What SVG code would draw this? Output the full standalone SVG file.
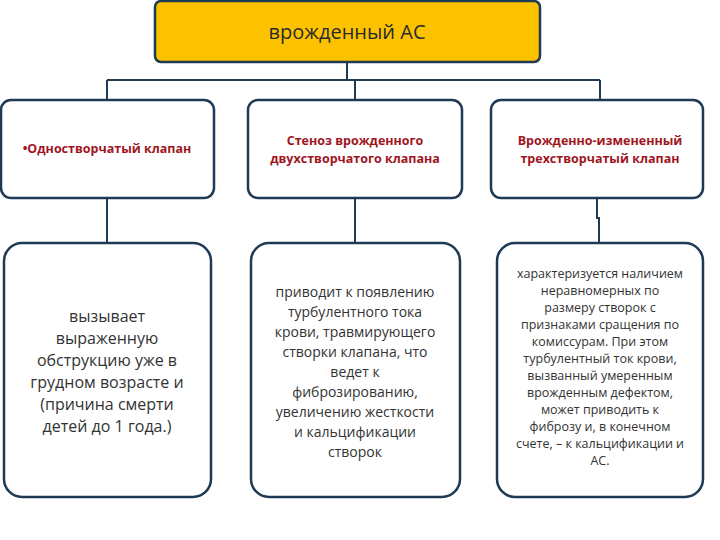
<svg xmlns="http://www.w3.org/2000/svg" width="720" height="540" viewBox="0 0 720 540">
<style>
.b{fill:#fff;stroke:#1f3a55;stroke-width:2.5}
.c{stroke:#1f3a55;stroke-width:2;fill:none}
.r{font-family:"Open Sans","Liberation Sans",sans-serif;font-size:12.5px;font-weight:bold;fill:#a0151d;text-anchor:middle}
.t{font-family:"Open Sans","Liberation Sans",sans-serif;fill:#333;text-anchor:middle}
</style>
<rect width="720" height="540" fill="#fff"/>
<g id="connectors">
<path class="c" d="M347 62V80M107 80H600M107 80V100M355 80V100M600 80V100M107 198V243M355 198V243M597 198V218H599V243"/>
</g>
<g id="root"><rect class="b" x="155" y="1" width="385" height="61" rx="6" fill="#fcc200" style="fill:#fcc200"/>
<text class="t" x="347" y="39" font-size="20" style="fill:#2b2b2b">врожденный АС</text></g>
<g id="n1"><rect class="b" x="1" y="100" width="213" height="98" rx="10"/>
<text class="r" x="107" y="153">•Одностворчатый клапан</text></g>
<g id="n2"><rect class="b" x="248" y="100" width="214" height="98" rx="10"/>
<text class="r" x="355" y="145">Стеноз врожденного</text><text class="r" x="355" y="163">двухстворчатого клапана</text></g>
<g id="n3"><rect class="b" x="491" y="100" width="212" height="98" rx="10"/>
<text class="r" x="600" y="145">Врожденно-измененный</text><text class="r" x="600" y="163">трехстворчатый клапан</text></g>
<g id="n4"><rect class="b" x="4" y="243" width="207" height="254" rx="18"/>
<text class="t" font-size="16"><tspan x="107" y="322">вызывает</tspan><tspan x="107" y="344">выраженную</tspan><tspan x="107" y="366">обструкцию уже в</tspan><tspan x="107" y="388">грудном возрасте и</tspan><tspan x="107" y="410">(причина смерти</tspan><tspan x="107" y="432">детей до 1 года.)</tspan></text></g>
<g id="n5"><rect class="b" x="251" y="243" width="209" height="254" rx="18"/>
<text class="t" font-size="14"><tspan x="355" y="297">приводит к появлению</tspan><tspan x="355" y="317">турбулентного тока</tspan><tspan x="355" y="337">крови, травмирующего</tspan><tspan x="355" y="357">створки клапана, что</tspan><tspan x="355" y="377">ведет к</tspan><tspan x="355" y="397">фиброзированию,</tspan><tspan x="355" y="417">увеличению жесткости</tspan><tspan x="355" y="437">и кальцификации</tspan><tspan x="355" y="457">створок</tspan></text></g>
<g id="n6"><rect class="b" x="497" y="243" width="206" height="254" rx="18"/>
<text class="t" font-size="12.5"><tspan x="600" y="278">характеризуется наличием</tspan><tspan x="600" y="295">неравномерных по</tspan><tspan x="600" y="312">размеру створок с</tspan><tspan x="600" y="329">признаками сращения по</tspan><tspan x="600" y="346">комиссурам. При этом</tspan><tspan x="600" y="363">турбулентный ток крови,</tspan><tspan x="600" y="380">вызванный умеренным</tspan><tspan x="600" y="397">врожденным дефектом,</tspan><tspan x="600" y="414">может приводить к</tspan><tspan x="600" y="431">фиброзу и, в конечном</tspan><tspan x="600" y="448">счете, – к кальцификации и</tspan><tspan x="600" y="465">АС.</tspan></text></g>
</svg>
